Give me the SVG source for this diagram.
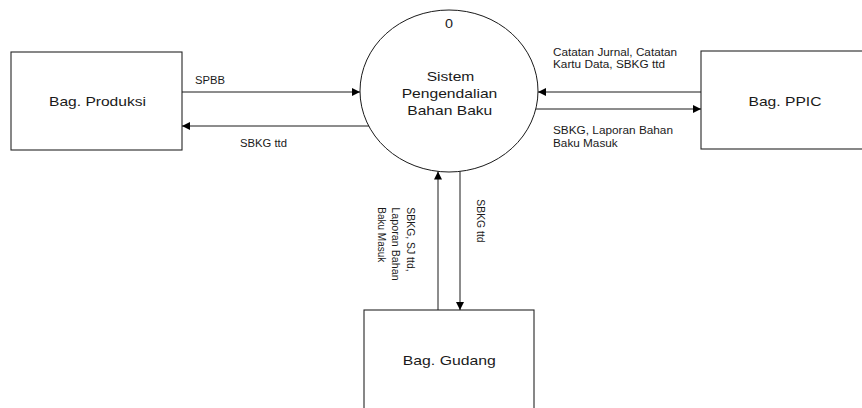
<svg xmlns="http://www.w3.org/2000/svg" width="862" height="408" viewBox="0 0 862 408">
  <style>
    .box { fill: #ffffff; stroke: #262626; stroke-width: 1.1; }
    .proc { fill: #ffffff; stroke: #1a1a1a; stroke-width: 1; }
    .flow { fill: none; stroke: #1a1a1a; stroke-width: 1; marker-end: url(#head); }
    .name { font-family: "Liberation Sans", Arial, sans-serif; font-size: 13px; fill: #1a1a1a; text-anchor: middle; }
    .lbl { font-family: "Liberation Sans", Arial, sans-serif; font-size: 10px; fill: #1a1a1a; }
  </style>
  <defs>
    <marker id="head" markerUnits="userSpaceOnUse" markerWidth="9" markerHeight="8" refX="8" refY="4" orient="auto">
      <path d="M0,0 L8,4 L0,8 Z" fill="#000000"/>
    </marker>
  </defs>

  <!-- external entities -->
  <g id="produksi">
    <rect class="box" x="11" y="52" width="171" height="98"/>
    <text class="name" x="97.5" y="106" textLength="97" lengthAdjust="spacingAndGlyphs">Bag. Produksi</text>
  </g>
  <g id="ppic">
    <rect class="box" x="701" y="51" width="170" height="98"/>
    <text class="name" x="785" y="105.5" textLength="73" lengthAdjust="spacingAndGlyphs">Bag. PPIC</text>
  </g>
  <g id="gudang">
    <rect class="box" x="364" y="310" width="170" height="102"/>
    <text class="name" x="449.3" y="365" textLength="93" lengthAdjust="spacingAndGlyphs">Bag. Gudang</text>
  </g>

  <!-- process 0 -->
  <g id="proses0">
    <ellipse class="proc" cx="449" cy="91" rx="89" ry="81"/>
    <text class="name" x="449" y="28.3" textLength="8" lengthAdjust="spacingAndGlyphs">0</text>
    <text class="name" x="450.5" y="80.7" textLength="47.7" lengthAdjust="spacingAndGlyphs">Sistem</text>
    <text class="name" x="449.5" y="97.7" textLength="95.7" lengthAdjust="spacingAndGlyphs">Pengendalian</text>
    <text class="name" x="449.8" y="115" textLength="85" lengthAdjust="spacingAndGlyphs">Bahan Baku</text>
  </g>

  <!-- data flows -->
  <g id="connectors">
    <line class="flow" x1="182" y1="92" x2="360" y2="92"/>
    <line class="flow" x1="369" y1="126" x2="182" y2="126"/>
    <line class="flow" x1="701" y1="92" x2="538" y2="92"/>
    <line class="flow" x1="536" y1="109" x2="701" y2="109"/>
    <line class="flow" x1="438" y1="310" x2="438" y2="171.5"/>
    <line class="flow" x1="460" y1="171.5" x2="460" y2="310"/>

    <text class="lbl" x="195" y="84" textLength="30" lengthAdjust="spacingAndGlyphs">SPBB</text>
    <text class="lbl" x="240" y="147" textLength="47" lengthAdjust="spacingAndGlyphs">SBKG ttd</text>
    <text class="lbl" x="553" y="56" textLength="124" lengthAdjust="spacingAndGlyphs">Catatan Jurnal, Catatan</text>
    <text class="lbl" x="553" y="67.5" textLength="112" lengthAdjust="spacingAndGlyphs">Kartu Data, SBKG ttd</text>
    <text class="lbl" x="553" y="134" textLength="120" lengthAdjust="spacingAndGlyphs">SBKG, Laporan Bahan</text>
    <text class="lbl" x="553" y="146.5" textLength="64.7" lengthAdjust="spacingAndGlyphs">Baku Masuk</text>

    <text class="lbl" transform="translate(407.3,207.3) scale(1.15,1) rotate(90)" textLength="64.3" lengthAdjust="spacingAndGlyphs">SBKG, SJ ttd,</text>
    <text class="lbl" transform="translate(392.3,207.3) scale(1.15,1) rotate(90)" textLength="73.4" lengthAdjust="spacingAndGlyphs">Laporan Bahan</text>
    <text class="lbl" transform="translate(377.8,207.3) scale(1.15,1) rotate(90)">Baku Masuk</text>
    <text class="lbl" transform="translate(476.7,199.3) scale(1.15,1) rotate(90)" textLength="43.3" lengthAdjust="spacingAndGlyphs">SBKG ttd</text>
  </g>
</svg>
